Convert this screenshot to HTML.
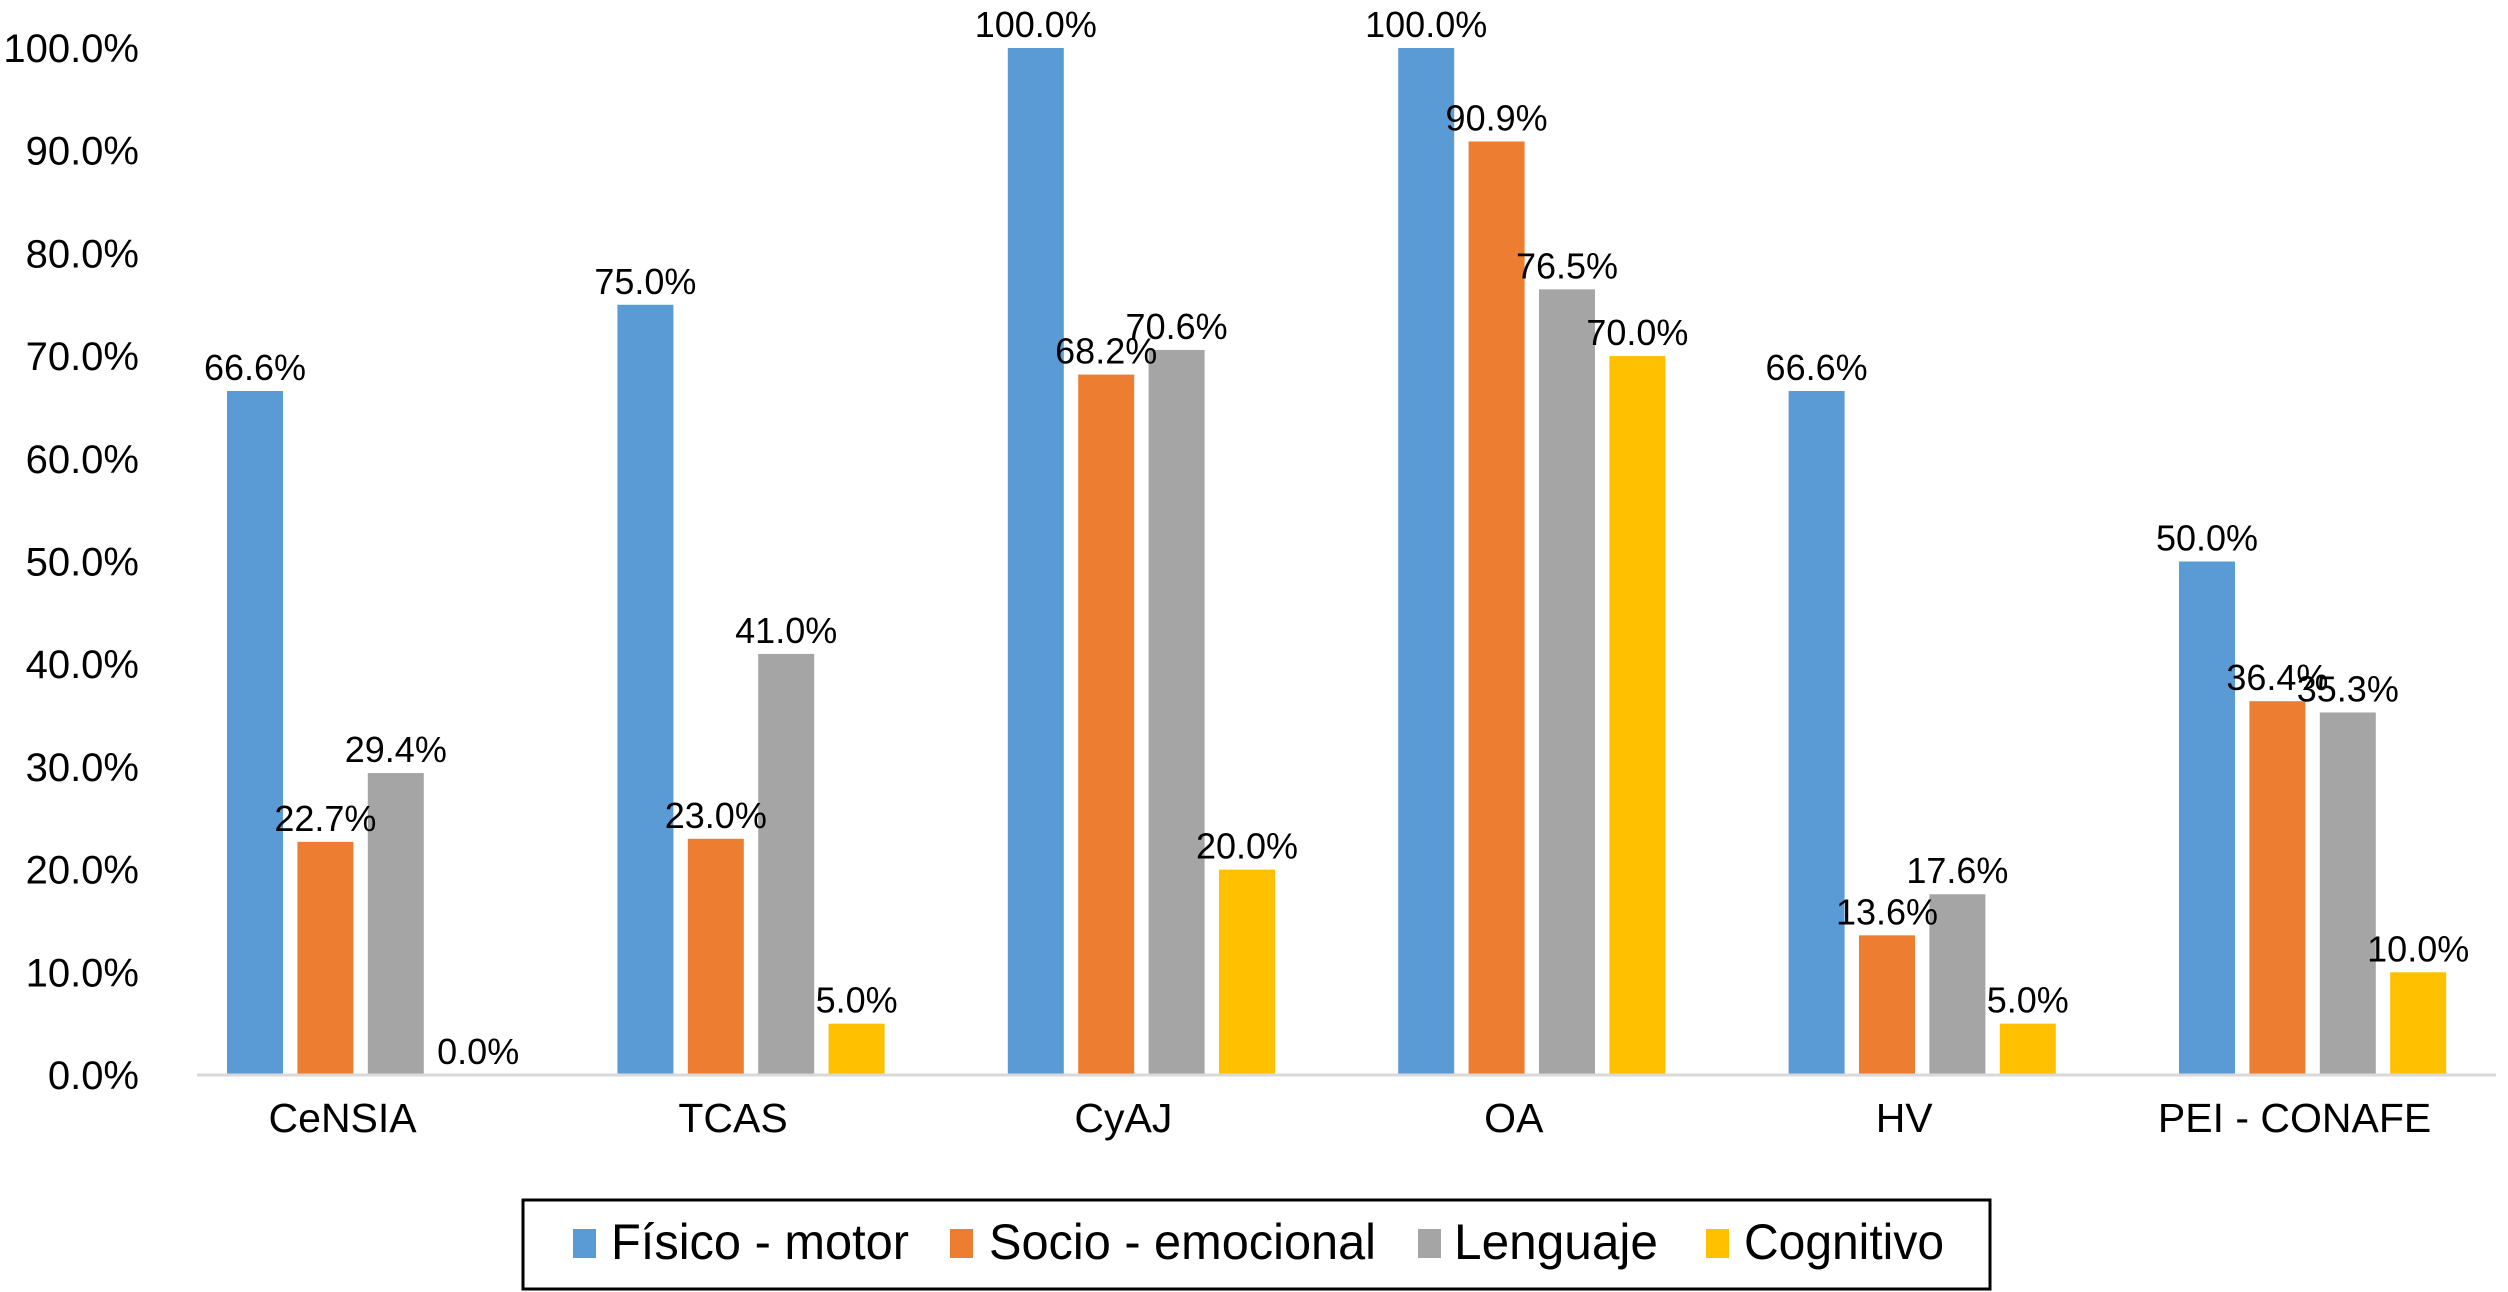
<!DOCTYPE html>
<html><head><meta charset="utf-8"><style>
html,body{margin:0;padding:0;background:#fff;}
svg{display:block;font-family:"Liberation Sans",Arial,sans-serif;}
</style></head><body>
<svg id="chart" width="2508" height="1292" viewBox="0 0 2508 1292">
<g id="yaxis"></g>
<g id="bars"></g>
<g id="labels"></g>
<g id="xaxis"></g>
<g id="legend">
<rect x="523" y="1200" width="1467" height="89" fill="#fff" stroke="#000" stroke-width="3"/>
</g>
</svg>
<script>
const categories = ["CeNSIA","TCAS","CyAJ","OA","HV","PEI - CONAFE"];
const seriesNames = ["Físico - motor","Socio - emocional","Lenguaje","Cognitivo"];
const fisico = [66.6,75.0,100.0,100.0,66.6,50.0];
const socio = [22.7,23.0,68.2,90.9,13.6,36.4];
const lenguaje = [29.4,41.0,70.6,76.5,17.6,35.3];
const cognitivo = [0.0,5.0,20.0,70.0,5.0,10.0];
const yTicks = [0,10,20,30,40,50,60,70,80,90,100];

const series = [fisico, socio, lenguaje, cognitivo];
const colors = ["#5b9bd5","#ed7d31","#a5a5a5","#ffc000"];
const NS = "http://www.w3.org/2000/svg";
const y0 = 1075, y100 = 48;
const yScale = v => y0 - (v/100)*(y0-y100);
const groupLeft = 227, groupPitch = 390.4, barPitch = 70.4, barW = 56;
const xBar = (c,s) => groupLeft + c*groupPitch + s*barPitch;
function mk(tag, attrs, parent){const e=document.createElementNS(NS,tag);for(const k in attrs)e.setAttribute(k,attrs[k]);parent.appendChild(e);return e;}

const ya = document.getElementById('yaxis');
yTicks.forEach(t=>{
  const tx = mk('text',{x:139,y:yScale(t)+14,'text-anchor':'end','font-size':40,fill:'#000'},ya);
  
  
  tx.textContent = t.toFixed(1)+'%';
});

const bg = document.getElementById('bars'), lg = document.getElementById('labels');
categories.forEach((c,ci)=>{
  series.forEach((arr,si)=>{
    const v = arr[ci];
    const r = mk('rect',{x:xBar(ci,si),y:yScale(v),width:barW,height:y0-yScale(v),fill:colors[si]},bg);
    
    
    const t = mk('text',{x:xBar(ci,si)+barW/2+(si===3&&v===0?12:0),y:yScale(v)-11,'text-anchor':'middle','font-size':36,fill:'#000'},lg);
    
    
    t.textContent = v.toFixed(1)+'%';
  });
});

const xa = document.getElementById('xaxis');
const ax = mk('line',{x1:197,y1:y0,x2:2496,y2:y0,stroke:'#d9d9d9','stroke-width':3},xa);


categories.forEach((c,ci)=>{
  const cx = xBar(ci,0) + (3*barPitch+barW)/2 - 18;
  const t = mk('text',{x:cx,y:1132,'text-anchor':'middle','font-size':41,fill:'#000'},xa);
  
  
  t.textContent = c;
});

const leg = document.getElementById('legend');
const swX = [573,950,1418,1706], txX = [611,989,1454,1744], txW = [298,387,204,200];
seriesNames.forEach((n,i)=>{
  const s = mk('rect',{x:swX[i],y:1229,width:23,height:29,fill:colors[i]},leg);
  
  
  const t = mk('text',{x:txX[i],y:1259,'font-size':50,fill:'#000',textLength:txW[i],lengthAdjust:'spacingAndGlyphs'},leg);
  
  
  t.textContent = n;
});
</script>
</body></html>
